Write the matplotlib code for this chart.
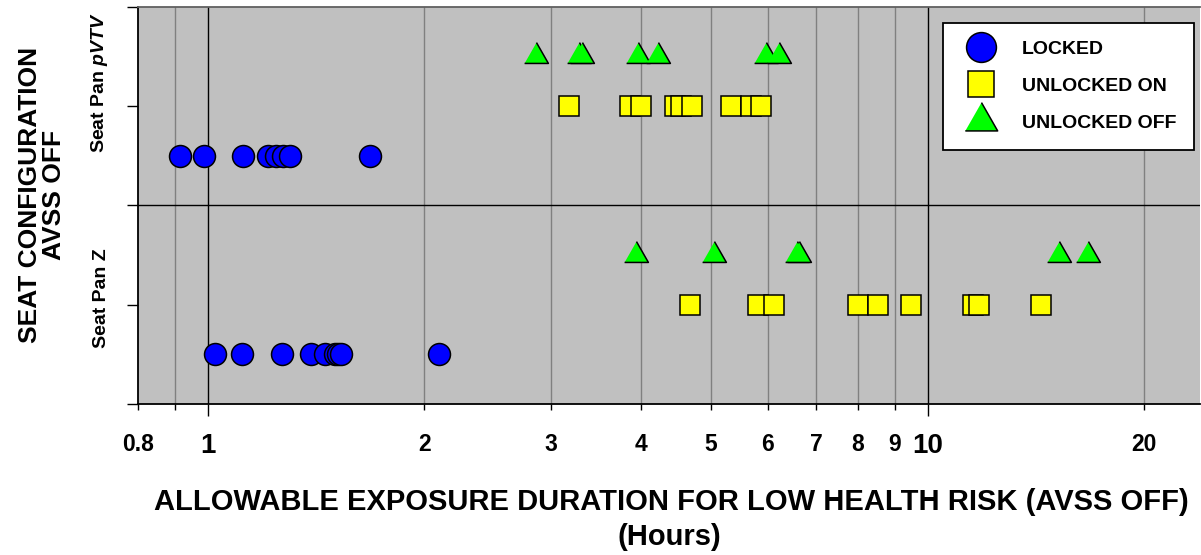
import numpy as np
import matplotlib
matplotlib.use('Agg')
import matplotlib.pyplot as plt
import matplotlib.transforms as mtransforms
from matplotlib.ticker import FixedLocator, FixedFormatter

plt.rcParams['font.family'] = ['Liberation Sans', 'DejaVu Sans']
plt.rcParams['font.weight'] = 'bold'
plt.rcParams['mathtext.fontset'] = 'custom'
plt.rcParams['mathtext.it'] = 'Liberation Sans:italic:bold'
plt.rcParams['mathtext.rm'] = 'Liberation Sans:bold'

# exposure durations (hours)
pvtv_locked = [0.916, 0.988, 1.119, 1.213, 1.243, 1.272, 1.300, 1.682]
pvtv_unlocked_on = [3.18, 3.86, 4.00, 4.46, 4.55, 4.70, 5.34, 5.68, 5.86]
pvtv_unlocked_off = [2.86, 3.28, 3.31, 3.96, 4.22, 5.97, 6.21]
z_locked = [1.024, 1.117, 1.270, 1.393, 1.454, 1.501, 1.517, 1.533, 2.096]
z_unlocked_on = [4.68, 5.81, 6.12, 8.00, 8.53, 9.48, 11.55, 11.80, 14.37]
z_unlocked_off = [3.94, 5.05, 6.58, 6.62, 15.2, 16.7]

# rows: seat configuration band base + level within band
z_row = 0
pvtv_row = 2
level_locked = 0.5
level_on = 1.0
level_off = 1.5

ytick_pos = [0, 1, 2, 3, 4]
ytick_labels = ['', 'Seat Pan Z', '', r'Seat Pan $\mathit{pVTV}$', '']

major_x = [1, 10]
minor_x = [0.8, 0.9, 2, 3, 4, 5, 6, 7, 8, 9, 20]
minor_labels = ['0.8', '', '2', '3', '4', '5', '6', '7', '8', '9', '20']
gray_grid = [0.9, 2, 3, 4, 5, 6, 7, 8, 9, 20]

# triangle with centroid at the origin
tri = [(-1, -0.583), (1, -0.583), (0, 1.167)]

fig = plt.figure(figsize=(12.01, 5.55), dpi=100)
ax = fig.add_axes([138 / 1201, 1 - 404 / 555, 1062 / 1201, (404 - 6.7) / 555])
ax.set_facecolor('#c0c0c0')
ax.set_xscale('log')
ax.set_xlim(0.8, 23.9)
ax.set_ylim(0, 4)

for g in gray_grid:
    ax.axvline(g, color='#808080', lw=1.0, zorder=1)
for g in major_x:
    ax.axvline(g, color='black', lw=1.0, zorder=1)
ax.axhline(2, color='black', lw=1.0, zorder=1)

circ = dict(marker='o', ms=15.8, mfc='#0000ff', mec='black', mew=1.1, ls='none', zorder=3)
sq = dict(marker='s', ms=14.2, mfc='#ffff00', mec='black', mew=1.1, ls='none', zorder=3)
tr = dict(marker=tri, ms=20, mfc='#00ff00', mec='black', mew=1.1, ls='none', zorder=3)

ax.plot(pvtv_locked, [pvtv_row + level_locked] * len(pvtv_locked), label='LOCKED', **circ)
ax.plot(pvtv_unlocked_on, [pvtv_row + level_on] * len(pvtv_unlocked_on), label='UNLOCKED ON', **sq)
ax.plot(pvtv_unlocked_off, [pvtv_row + level_off] * len(pvtv_unlocked_off), label='UNLOCKED OFF', **tr)
ax.plot(z_locked, [z_row + level_locked] * len(z_locked), **circ)
ax.plot(z_unlocked_on, [z_row + level_on] * len(z_unlocked_on), **sq)
ax.plot(z_unlocked_off, [z_row + level_off] * len(z_unlocked_off), **tr)

# x ticks
ax.xaxis.set_major_locator(FixedLocator(major_x))
ax.xaxis.set_major_formatter(FixedFormatter(['1', '10']))
ax.xaxis.set_minor_locator(FixedLocator(minor_x))
ax.xaxis.set_minor_formatter(FixedFormatter(minor_labels))
ax.tick_params(axis='x', which='major', direction='out', length=8.6, width=1, pad=12.3,
               labelsize=20, color='black')
ax.tick_params(axis='x', which='minor', direction='out', length=4.0, width=1, pad=16.6,
               labelsize=16.5, color='black')

# y ticks
ax.set_yticks(ytick_pos)
ax.set_yticklabels(ytick_labels, rotation=90, va='center')
ax.tick_params(axis='y', direction='out', length=8, width=1, pad=12, labelsize=14)
# nudge the rotated labels up a bit like in the original
shifts = [0, 0.07, 0, 0.24, 0]
for lab, dy in zip(ax.get_yticklabels(), shifts):
    lab.set_transform(lab.get_transform() + mtransforms.ScaledTranslation(0, dy, fig.dpi_scale_trans))

for side in ['left', 'bottom']:
    ax.spines[side].set_color('black')
    ax.spines[side].set_linewidth(1.3)
ax.spines['top'].set_color('#606060')
ax.spines['top'].set_linewidth(1.3)
ax.spines['right'].set_visible(False)

leg = ax.legend(loc='upper left', bbox_to_anchor=(943 / 1201, 1 - 23 / 555),
                bbox_transform=fig.transFigure, borderaxespad=0, fontsize=14,
                markerscale=1.36, handlelength=2.1, handletextpad=1.05, borderpad=0.9,
                labelspacing=1.0, fancybox=False, framealpha=1, edgecolor='black')
leg.get_frame().set_linewidth(1.3)

fig.text(42 / 1201, 1 - 195 / 555, 'SEAT CONFIGURATION\nAVSS OFF', rotation=90,
         ha='center', va='center', multialignment='center', fontsize=19, linespacing=1.0)
fig.text(671 / 1201, 1 - 502.5 / 555, 'ALLOWABLE EXPOSURE DURATION FOR LOW HEALTH RISK (AVSS OFF)',
         ha='center', va='center', fontsize=21)
fig.text(669 / 1201, 1 - 537 / 555, '(Hours)', ha='center', va='center', fontsize=21)

fig.savefig('out.png', dpi=100)
